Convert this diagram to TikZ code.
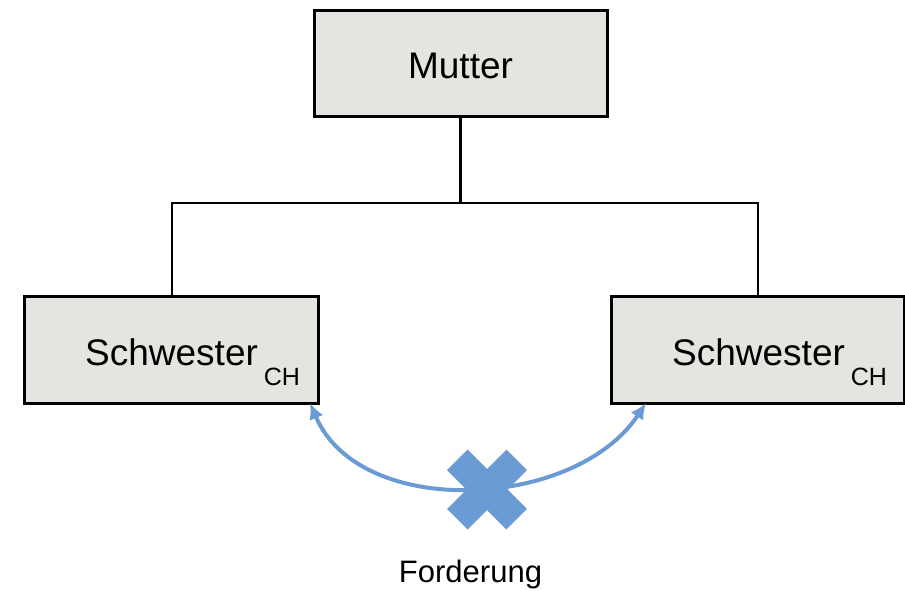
\documentclass[tikz,border=0pt]{standalone}
\usepackage{fontspec}
\setmainfont{Liberation Sans}
\usetikzlibrary{arrows.meta,calc}
\definecolor{boxfill}{HTML}{E5E4E0}
\definecolor{linkblue}{HTML}{6A9BD5}
\begin{document}
\begin{tikzpicture}[x=1pt,y=-1pt,
  unit/.style={draw=black,line width=3pt,fill=boxfill,inner sep=0pt},
  branch/.style={line width=2.3pt,black},
  label/.style={inner sep=0pt,font=\fontsize{37}{40}\selectfont},
  link/.style={draw=linkblue,line width=4pt,{Latex[length=16pt,width=15pt]}-{Latex[length=16pt,width=15pt]}}]
\useasboundingbox (0,0) rectangle (905,590);
% organisation boxes
\node[unit,minimum width=293pt,minimum height=106pt] (mutter) at (460.5,63) {};
\node[unit,minimum width=294pt,minimum height=107pt] (left) at (171,349.5) {};
\node[unit,minimum width=293pt,minimum height=107pt] (right) at (757.5,349.5) {};
% labels
\node[label] (mt) at (460.5,66) {Mutter};
\node[label,anchor=base west] (lt) at (85,365) {Schwester\hspace{6pt}\raisebox{-20pt}{\fontsize{25}{28}\selectfont CH}};
\node[label,anchor=base west] (rt) at (672,365) {Schwester\hspace{6pt}\raisebox{-20pt}{\fontsize{25}{28}\selectfont CH}};
% tree connectors
\coordinate (fork) at (460.5,203);
\draw[branch] (mutter.south) -- (fork);
\draw[branch] (172,296) -- (172,203) -- (758,203) -- (758,296);
% blocked claim between the sisters
\coordinate (la) at (310,403);
\coordinate (ra) at (646,403);
\draw[link] (la) .. controls (360,520) and (575,510) .. (ra);
\node[inner sep=0pt] (cross) at (487,489.5) {};
\fill[linkblue,rotate around={45:(cross)}] ($(cross)+(-42,-14.5)$) rectangle ($(cross)+(42,14.5)$);
\fill[linkblue,rotate around={45:(cross)}] ($(cross)+(-14.5,-42)$) rectangle ($(cross)+(14.5,42)$);
\node[inner sep=0pt,font=\fontsize{31}{34}\selectfont,anchor=base] (forderung) at (470.5,582) {Forderung};
\end{tikzpicture}
\end{document}
